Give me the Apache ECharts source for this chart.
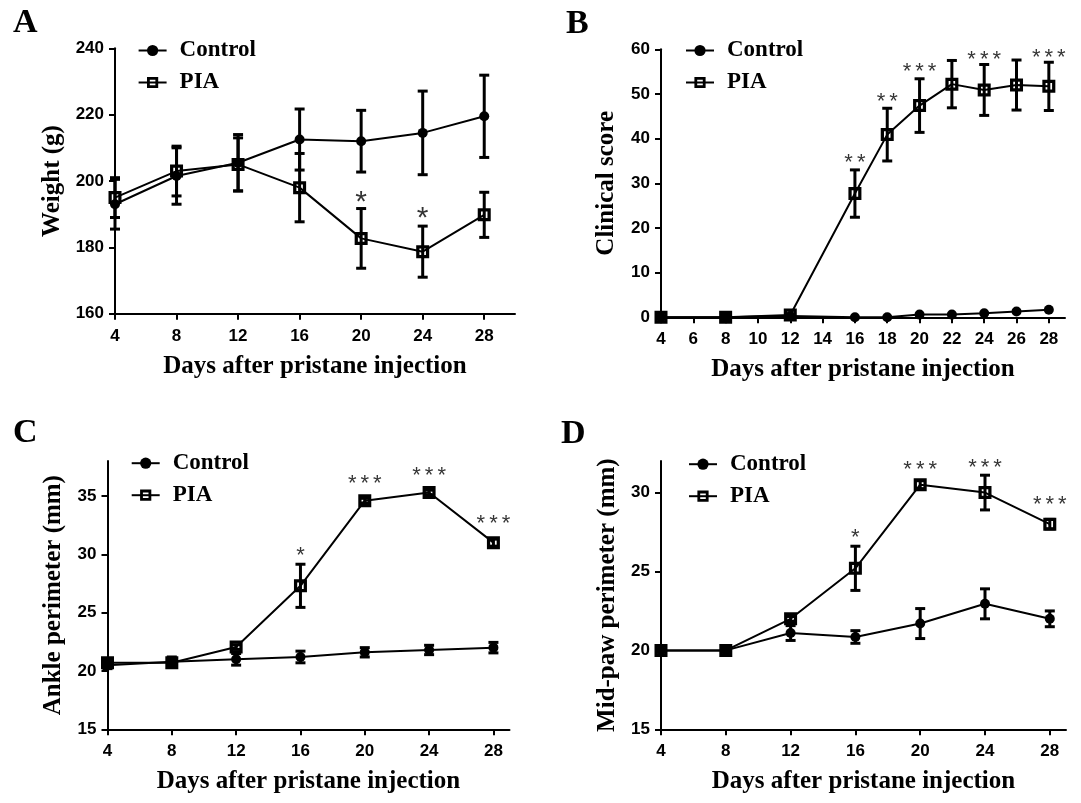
<!DOCTYPE html>
<html><head><meta charset="utf-8">
<script src="https://cdn.jsdelivr.net/npm/echarts@6/dist/echarts.min.js"></script>
<style>html,body{margin:0;padding:0;background:#fff}#c{width:1081px;height:803px}</style>
</head><body><div id="c"></div>
<script>
// ---------------- data ----------------
const days7 = [4, 8, 12, 16, 20, 24, 28];
const daysB = [4, 8, 12, 16, 18, 20, 22, 24, 26, 28];
const ticksX4 = [4, 8, 12, 16, 20, 24, 28];
const ticksX2 = [4, 6, 8, 10, 12, 14, 16, 18, 20, 22, 24, 26, 28];

// A: Weight (g)
const weightControl = [193, 201.5, 205.5, 212.5, 212, 214.5, 219.5];
const weightControlErr = [7.5, 8.5, 8.5, 9.2, 9.3, 12.6, 12.4];
const weightPIA = [195, 203, 205, 198, 182.7, 178.7, 189.8];
const weightPIAErr = [6, 7.5, 8, 10.3, 9, 7.7, 6.8];
const weightStars = [[20, 195.3, '*'], [24, 190.7, '*']];
const weightTicks = [160, 180, 200, 220, 240];

// B: Clinical score
const scoreControl = [0, 0, 0.3, 0, 0, 0.6, 0.6, 0.9, 1.3, 1.7];
const scoreControlErr = [0, 0, 0, 0, 0, 0, 0, 0, 0, 0];
const scorePIA = [0, 0, 0.5, 27.7, 40.9, 47.4, 52.2, 50.9, 52, 51.7];
const scorePIAErr = [0, 0, 0, 5.3, 5.9, 6, 5.3, 5.7, 5.6, 5.4];
const scoreStars = [[16, 35.7, '**'], [18, 49.4, '**'], [20, 56.1, '***'], [22, 60.6, '***'], [24, 58.7, '***'], [26, 61.3, '***'], [28, 59.1, '***']];
const scoreTicks = [0, 10, 20, 30, 40, 50, 60];

// C: Ankle perimeter (mm)
const ankleControl = [20.5, 20.8, 21.0, 21.2, 21.6, 21.8, 22.0];
const ankleControlErr = [0.3, 0.4, 0.5, 0.5, 0.4, 0.4, 0.45];
const anklePIA = [20.7, 20.7, 22.05, 27.3, 34.6, 35.3, 31.0];
const anklePIAErr = [0.2, 0.2, 0.2, 1.85, 0.2, 0.2, 0.3];
const ankleStars = [[16, 30.27, '*'], [20, 36.44, '***'], [24, 37.15, '***'], [28, 33.06, '***']];
const ankleTicks = [15, 20, 25, 30, 35];

// D: Mid-paw perimeter (mm)
const pawControl = [20, 20, 21.1, 20.85, 21.7, 22.95, 22.0];
const pawControlErr = [0, 0, 0.47, 0.4, 0.95, 0.95, 0.5];
const pawPIA = [20, 20, 22.0, 25.2, 30.5, 30.0, 28.0];
const pawPIAErr = [0, 0, 0.15, 1.4, 0.25, 1.1, 0.3];
const pawStars = [[16, 27.42, '*'], [20, 31.75, '***'], [24, 31.86, '***'], [28, 29.53, '***']];
const pawTicks = [15, 20, 25, 30];

const xTitle = 'Days after pristane injection';
const panelLetters = ['A', 'B', 'C', 'D'];
const yTitles = ['Weight (g)', 'Clinical score', 'Ankle perimeter (mm)', 'Mid-paw perimeter (mm)'];

// ---------------- layout / styles ----------------
const serif = "'Liberation Serif','Times New Roman',serif";
const sans = "'Liberation Sans',Arial,sans-serif";
// hollow square drawn as a ring (outer clockwise, inner counter-clockwise)
const openSquare = 'path://M0,0H20V20H0Z M5,5V15H15V5Z';

const panels = [
  {days: days7, c: weightControl, ce: weightControlErr, p: weightPIA, pe: weightPIAErr, stars: weightStars,
   xTicks: ticksX4, yTicks: weightTicks, xMin: 4, xMax: 30, yMin: 160, yMax: 240,
   grid: {left: 115, top: 48.3, width: 400, height: 265.4}, yGap: 50, starSize: 30,
   legend: {left: 132.6, top: 34}, letter: {left: 13, top: 6}},
  {days: daysB, c: scoreControl, ce: scoreControlErr, p: scorePIA, pe: scorePIAErr, stars: scoreStars,
   xTicks: ticksX2, yTicks: scoreTicks, xMin: 4, xMax: 29, yMin: 0, yMax: 60,
   grid: {left: 661, top: 49.3, width: 404, height: 268}, yGap: 42, starSize: 22,
   legend: {left: 680, top: 34}, letter: {left: 566, top: 7}},
  {days: days7, c: ankleControl, ce: ankleControlErr, p: anklePIA, pe: anklePIAErr, stars: ankleStars,
   xTicks: ticksX4, yTicks: ankleTicks, xMin: 4, xMax: 29, yMin: 15, yMax: 38,
   grid: {left: 107.5, top: 461, width: 402, height: 268.3}, yGap: 41, starSize: 22,
   legend: {left: 125.7, top: 446.7}, letter: {left: 13, top: 416}},
  {days: days7, c: pawControl, ce: pawControlErr, p: pawPIA, pe: pawPIAErr, stars: pawStars,
   xTicks: ticksX4, yTicks: pawTicks, xMin: 4, xMax: 29, yMin: 15, yMax: 32,
   grid: {left: 661, top: 461, width: 405, height: 268.3}, yGap: 41, starSize: 22,
   legend: {left: 683, top: 447.7}, letter: {left: 561, top: 417}}
];

function errRender(params, api) {
  const x = api.value(0), lo = api.value(1), hi = api.value(2);
  const p1 = api.coord([x, lo]), p2 = api.coord([x, hi]);
  const w = 5, st = {stroke: '#000', lineWidth: 3};
  return {type: 'group', children: [
    {type: 'line', shape: {x1: p1[0], y1: p1[1], x2: p2[0], y2: p2[1]}, style: st},
    {type: 'line', shape: {x1: p1[0] - w, y1: p1[1], x2: p1[0] + w, y2: p1[1]}, style: st},
    {type: 'line', shape: {x1: p2[0] - w, y1: p2[1], x2: p2[0] + w, y2: p2[1]}, style: st}
  ]};
}

const grid = [], xAxis = [], yAxis = [], series = [], legend = [], title = [];
const axisLine = {show: true, lineStyle: {color: '#000', width: 2}};
const axisTickBase = {show: true, length: 6, lineStyle: {color: '#000', width: 2}};

panels.forEach((P, i) => {
  grid.push(Object.assign({containLabel: false}, P.grid));
  xAxis.push({
    type: 'value', gridIndex: i, min: P.xMin, max: P.xMax,
    name: xTitle, nameLocation: 'middle', nameGap: 40,
    nameTextStyle: {fontFamily: serif, fontWeight: 'bold', fontSize: 25, color: '#000'},
    axisLine: axisLine,
    axisTick: Object.assign({customValues: P.xTicks}, axisTickBase),
    axisLabel: {customValues: P.xTicks, margin: 14, fontFamily: sans, fontWeight: 'bold', fontSize: 17, color: '#000'},
    splitLine: {show: false}
  });
  yAxis.push({
    type: 'value', gridIndex: i, min: P.yMin, max: P.yMax,
    name: yTitles[i], nameLocation: 'middle', nameGap: P.yGap, nameRotate: 90,
    nameTextStyle: {fontFamily: serif, fontWeight: 'bold', fontSize: 25, color: '#000'},
    axisLine: axisLine,
    axisTick: Object.assign({customValues: P.yTicks}, axisTickBase),
    axisLabel: {customValues: P.yTicks, margin: 11, fontFamily: sans, fontWeight: 'bold', fontSize: 17, color: '#000'},
    splitLine: {show: false}
  });
  series.push({
    type: 'line', name: 'PIA', xAxisIndex: i, yAxisIndex: i, z: 2,
    data: P.days.map((d, k) => [d, P.p[k]]),
    symbol: openSquare, symbolSize: 13,
    lineStyle: {color: '#000', width: 2},
    itemStyle: {color: '#000'}
  });
  series.push({
    type: 'line', name: 'Control', xAxisIndex: i, yAxisIndex: i, z: 3,
    data: P.days.map((d, k) => [d, P.c[k]]),
    symbol: 'circle', symbolSize: 10,
    lineStyle: {color: '#000', width: 2},
    itemStyle: {color: '#000'}
  });
  const errData = [];
  P.days.forEach((d, k) => {
    if (P.ce[k] > 0) errData.push([d, P.c[k] - P.ce[k], P.c[k] + P.ce[k]]);
    if (P.pe[k] > 0) errData.push([d, P.p[k] - P.pe[k], P.p[k] + P.pe[k]]);
  });
  series.push({
    type: 'custom', xAxisIndex: i, yAxisIndex: i, z: 4, silent: true,
    renderItem: errRender, encode: {x: 0, y: [1, 2]}, data: errData
  });
  series.push({
    type: 'scatter', xAxisIndex: i, yAxisIndex: i, z: 5, silent: true,
    symbolSize: 0, data: P.stars,
    label: {show: true, position: 'inside', offset: [0, P.starSize * 0.22],
      formatter: p => p.value[2].split('').map(() => '{s|*}').join(''),
      rich: {s: {fontFamily: sans, fontSize: P.starSize, color: '#000', padding: [0, 2, 0, 2]}},
      fontFamily: sans, fontSize: P.starSize, color: '#000'}
  });
  legend.push({
    data: ['Control', 'PIA'], orient: 'vertical', left: P.legend.left, top: P.legend.top,
    itemWidth: 28, itemHeight: 14, itemGap: 9, selectedMode: false,
    textStyle: {fontFamily: serif, fontWeight: 'bold', fontSize: 23, color: '#000', lineHeight: 23, padding: [0, 0, 0, 8]}
  });
  title.push({
    text: panelLetters[i], left: P.letter.left, top: P.letter.top, padding: 0,
    textStyle: {fontFamily: serif, fontWeight: 'bold', fontSize: 34, color: '#000'}
  });
});

const chart = echarts.init(document.getElementById('c'), null, {renderer: 'canvas'});
chart.setOption({animation: false, backgroundColor: '#fff', title, legend, grid, xAxis, yAxis, series});
</script>
</body></html>
